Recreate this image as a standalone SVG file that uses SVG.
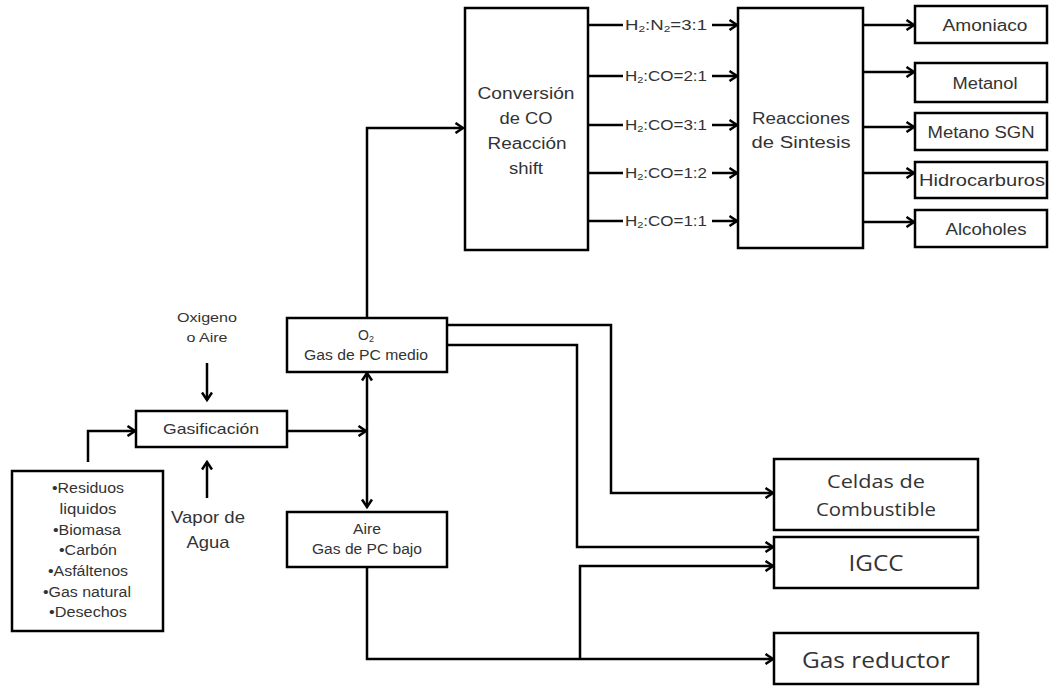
<svg xmlns="http://www.w3.org/2000/svg" width="1052" height="686" viewBox="0 0 1052 686">
<style>
.box{fill:#fff;stroke:#000;stroke-width:2.5}
.c{fill:none;stroke:#000;stroke-width:2.5}
text{font-family:"Liberation Sans",Arial,sans-serif;fill:#333;text-anchor:middle}
.cal{font-family:"Open Sans","Liberation Sans",sans-serif}
</style>
<defs>
<marker id="ah" markerWidth="12" markerHeight="12" refX="9.5" refY="6" orient="auto-start-reverse" markerUnits="userSpaceOnUse">
<path d="M2,1 L9.5,6 L2,11" fill="none" stroke="#000" stroke-width="2.5"/>
</marker>
</defs>
<rect width="1052" height="686" fill="#fff"/>

<g id="connectors">
<path class="c" d="M88,462 V431 H135" marker-end="url(#ah)"/>
<path class="c" d="M207,363 V400" marker-end="url(#ah)"/>
<path class="c" d="M207,498 V462" marker-end="url(#ah)"/>
<path class="c" d="M287,431 H366" marker-end="url(#ah)"/>
<path class="c" d="M367,373 V507" marker-start="url(#ah)" marker-end="url(#ah)"/>
<path class="c" d="M367,318 V128 H463" marker-end="url(#ah)"/>
<path class="c" d="M588,25 H623 M588,76 H623 M588,125 H623 M588,173 H623 M588,221 H623"/>
<path class="c" d="M712,25 H737" marker-end="url(#ah)"/>
<path class="c" d="M712,76 H737" marker-end="url(#ah)"/>
<path class="c" d="M712,125 H737" marker-end="url(#ah)"/>
<path class="c" d="M712,173 H737" marker-end="url(#ah)"/>
<path class="c" d="M712,221 H737" marker-end="url(#ah)"/>
<path class="c" d="M863,25 H914" marker-end="url(#ah)"/>
<path class="c" d="M863,72 H914" marker-end="url(#ah)"/>
<path class="c" d="M863,127 H914" marker-end="url(#ah)"/>
<path class="c" d="M863,173 H914" marker-end="url(#ah)"/>
<path class="c" d="M863,222 H914" marker-end="url(#ah)"/>
<path class="c" d="M447,325 H611 V493 H773" marker-end="url(#ah)"/>
<path class="c" d="M447,345 H577 V547 H773" marker-end="url(#ah)"/>
<path class="c" d="M367,567 V659 H773" marker-end="url(#ah)"/>
<path class="c" d="M580,659 V566 H773" marker-end="url(#ah)"/>
</g>

<g id="ratios" font-size="14">
<text x="666" y="30" textLength="82" lengthAdjust="spacingAndGlyphs">H<tspan font-size="9" dy="2">2</tspan><tspan dy="-2">:N</tspan><tspan font-size="9" dy="2">2</tspan><tspan dy="-2">=3:1</tspan></text>
<text x="666" y="81" textLength="82" lengthAdjust="spacingAndGlyphs">H<tspan font-size="9" dy="2">2</tspan><tspan dy="-2">:CO=2:1</tspan></text>
<text x="666" y="130" textLength="82" lengthAdjust="spacingAndGlyphs">H<tspan font-size="9" dy="2">2</tspan><tspan dy="-2">:CO=3:1</tspan></text>
<text x="666" y="178" textLength="82" lengthAdjust="spacingAndGlyphs">H<tspan font-size="9" dy="2">2</tspan><tspan dy="-2">:CO=1:2</tspan></text>
<text x="666" y="226" textLength="82" lengthAdjust="spacingAndGlyphs">H<tspan font-size="9" dy="2">2</tspan><tspan dy="-2">:CO=1:1</tspan></text>
</g>

<g id="conversion">
<rect class="box" x="465" y="8" width="123" height="242"/>
<text font-size="16" x="526" y="99" textLength="97" lengthAdjust="spacingAndGlyphs">Conversión</text>
<text font-size="16" x="526" y="124" textLength="53" lengthAdjust="spacingAndGlyphs">de CO</text>
<text font-size="16" x="527" y="149" textLength="79" lengthAdjust="spacingAndGlyphs">Reacción</text>
<text font-size="16" x="526" y="174" textLength="34" lengthAdjust="spacingAndGlyphs">shift</text>
</g>

<g id="reacciones">
<rect class="box" x="738" y="8" width="125" height="240"/>
<text font-size="16" x="801" y="124" textLength="98" lengthAdjust="spacingAndGlyphs">Reacciones</text>
<text font-size="16" x="801" y="148" textLength="99" lengthAdjust="spacingAndGlyphs">de Sintesis</text>
</g>

<g id="amoniaco"><rect class="box" x="915" y="6" width="132" height="37"/><text font-size="16" x="985" y="31" textLength="85" lengthAdjust="spacingAndGlyphs">Amoniaco</text></g>
<g id="metanol"><rect class="box" x="915" y="63" width="132" height="39"/><text font-size="16" x="985" y="89" textLength="65" lengthAdjust="spacingAndGlyphs">Metanol</text></g>
<g id="metano"><rect class="box" x="915" y="113" width="132" height="37"/><text font-size="16" x="981" y="138" textLength="107" lengthAdjust="spacingAndGlyphs">Metano SGN</text></g>
<g id="hidrocarburos"><rect class="box" x="915" y="162" width="132" height="36"/><text font-size="16" x="982" y="186" textLength="126" lengthAdjust="spacingAndGlyphs">Hidrocarburos</text></g>
<g id="alcoholes"><rect class="box" x="915" y="210" width="132" height="37"/><text font-size="16" x="986" y="235" textLength="81" lengthAdjust="spacingAndGlyphs">Alcoholes</text></g>

<g id="oxigeno">
<text font-size="13" x="207" y="322" textLength="60" lengthAdjust="spacingAndGlyphs">Oxigeno</text>
<text font-size="13" x="207" y="342" textLength="41" lengthAdjust="spacingAndGlyphs">o Aire</text>
</g>

<g id="gasificacion">
<rect class="box" x="136" y="411" width="151" height="36"/>
<text font-size="15" x="211" y="434" textLength="96" lengthAdjust="spacingAndGlyphs">Gasificación</text>
</g>

<g id="vapor">
<text font-size="17" x="208" y="523" textLength="74" lengthAdjust="spacingAndGlyphs">Vapor de</text>
<text font-size="17" x="208" y="548" textLength="43" lengthAdjust="spacingAndGlyphs">Agua</text>
</g>

<g id="insumos">
<rect class="box" x="12" y="471" width="151" height="160"/>
<text font-size="14" x="88" y="493" textLength="72" lengthAdjust="spacingAndGlyphs">•Residuos</text>
<text font-size="14" x="88" y="514" textLength="57" lengthAdjust="spacingAndGlyphs">liquidos</text>
<text font-size="14" x="87" y="535" textLength="68" lengthAdjust="spacingAndGlyphs">•Biomasa</text>
<text font-size="14" x="88" y="555" textLength="58" lengthAdjust="spacingAndGlyphs">•Carbón</text>
<text font-size="14" x="88" y="576" textLength="80" lengthAdjust="spacingAndGlyphs">•Asfáltenos</text>
<text font-size="14" x="87" y="597" textLength="88" lengthAdjust="spacingAndGlyphs">•Gas natural</text>
<text font-size="14" x="88" y="617" textLength="78" lengthAdjust="spacingAndGlyphs">•Desechos</text>
</g>

<g id="o2">
<rect class="box" x="287" y="318" width="160" height="54"/>
<text font-size="14" x="366" y="340">O<tspan font-size="9" dy="2">2</tspan></text>
<text font-size="14" x="366" y="360" textLength="124" lengthAdjust="spacingAndGlyphs">Gas de PC medio</text>
</g>

<g id="aire">
<rect class="box" x="287" y="512" width="160" height="55"/>
<text font-size="14" x="367" y="534" textLength="28" lengthAdjust="spacingAndGlyphs">Aire</text>
<text font-size="14" x="367" y="554" textLength="110" lengthAdjust="spacingAndGlyphs">Gas de PC bajo</text>
</g>

<g id="celdas">
<rect class="box" x="774" y="459" width="204" height="71"/>
<text class="cal" font-size="18" x="876" y="488" textLength="98" lengthAdjust="spacingAndGlyphs">Celdas de</text>
<text class="cal" font-size="18" x="876" y="516" textLength="120" lengthAdjust="spacingAndGlyphs">Combustible</text>
</g>

<g id="igcc">
<rect class="box" x="774" y="537" width="204" height="51"/>
<text class="cal" font-size="22" x="876" y="571" textLength="55" lengthAdjust="spacingAndGlyphs">IGCC</text>
</g>

<g id="gasreductor">
<rect class="box" x="774" y="633" width="204" height="51"/>
<text class="cal" font-size="22" x="876" y="668" textLength="148" lengthAdjust="spacingAndGlyphs">Gas reductor</text>
</g>
</svg>
